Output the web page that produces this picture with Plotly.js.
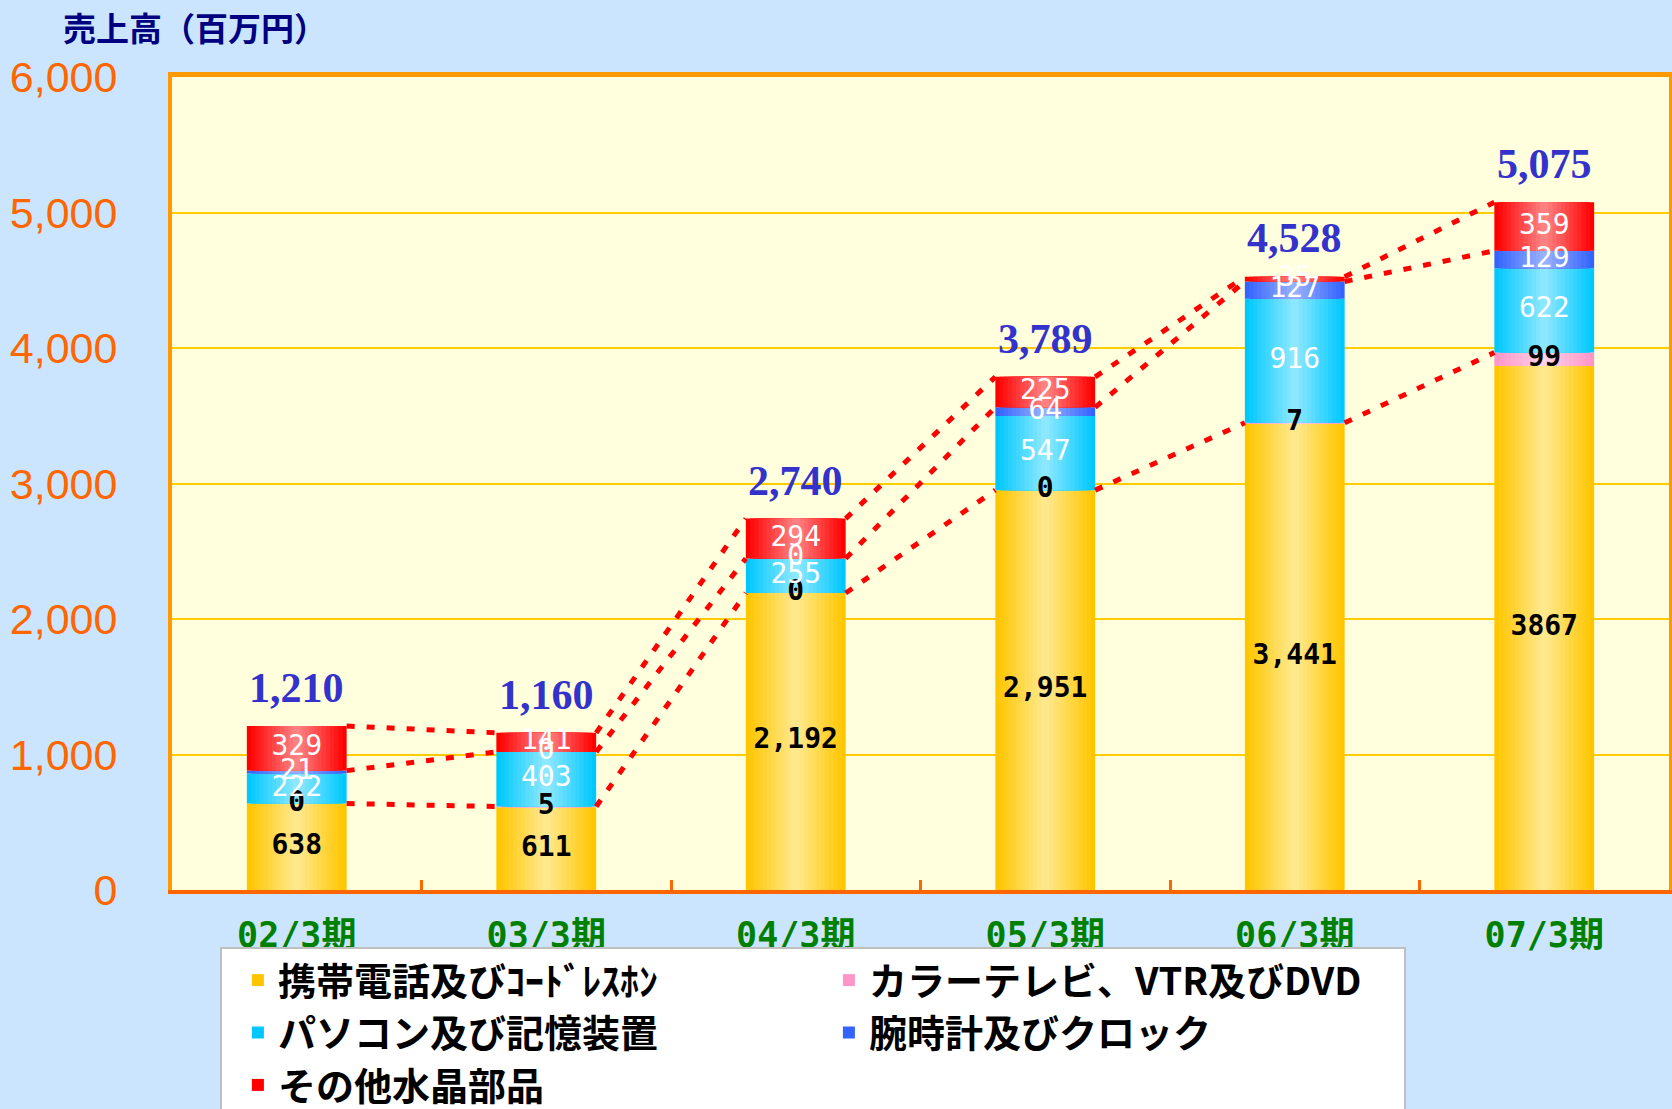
<!DOCTYPE html>
<html><head><meta charset="utf-8">
<script src="https://cdn.plot.ly/plotly-3.0.1.min.js"></script>
<style>html,body{margin:0;padding:0;background:#CCE5FF;} #chart{width:1672px;height:1109px;}</style>
</head><body><div id="chart"></div>
<script>
// ---- data ----
const categories = ["02/3期","03/3期","04/3期","05/3期","06/3期","07/3期"];
const seriesNames = ["携帯電話及びｺｰﾄﾞﾚｽﾎﾝ","カラーテレビ、VTR及びDVD","パソコン及び記憶装置","腕時計及びクロック","その他水晶部品"];
const phone = [638, 611, 2192, 2951, 3441, 3867];
const tv    = [0, 5, 0, 0, 7, 99];
const pc    = [222, 403, 255, 547, 916, 622];
const watch = [21, 0, 0, 64, 127, 129];
const other = [329, 141, 294, 225, 35, 359];
const totals = [1210, 1160, 2740, 3789, 4528, 5075];
const phoneLabels = ["638","611","2,192","2,951","3,441","3867"];
const yTicks = [0,1000,2000,3000,4000,5000,6000];

// ---- styles ----
const series = [phone, tv, pc, watch, other];
const styles = [
  {edge:[255,198,0],  center:[255,232,140], label:'#000000', weight:'bold'},
  {edge:[255,150,200],center:[255,208,232], label:'#000000', weight:'bold'},
  {edge:[0,200,255],  center:[140,232,255], label:'#FFFFFF', weight:'normal'},
  {edge:[51,100,255], center:[150,175,255], label:'#FFFFFF', weight:'normal'},
  {edge:[255,0,0],    center:[255,128,128], label:'#FFFFFF', weight:'normal'}
];
const BARW = 0.4, LAYERS = 12;
function mix(a,b,t){return 'rgb('+a.map((v,i)=>Math.round(v+(b[i]-v)*t)).join(',')+')';}

// cumulative bases
const bases = [];
let run = categories.map(()=>0);
series.forEach(s=>{ bases.push(run.slice()); run = run.map((v,i)=>v+s[i]); });
const tops = series.map((s,k)=>s.map((v,i)=>bases[k][i]+v));

const traces = [];
series.forEach((s,k)=>{
  const st = styles[k];
  for(let L=0; L<LAYERS; L++){
    const t = L/(LAYERS-1);
    traces.push({
      type:'bar', x:categories, y:s, base:bases[k],
      width: BARW*(1-L/LAYERS),
      marker:{color: mix(st.edge, st.center, t), line:{width:0}},
      name: seriesNames[k], showlegend: L===0, legendgroup:'g'+k,
      hoverinfo:'skip'
    });
  }
});

// connector lines (cumulative levels: tv top, watch top, total)
[1,3,4].forEach(k=>{
  const xs=[], ys=[];
  for(let i=0;i<categories.length-1;i++){
    xs.push(i+BARW/2, i+1-BARW/2, null);
    ys.push(tops[k][i], tops[k][i+1], null);
  }
  traces.push({type:'scatter', mode:'lines', x:xs, y:ys, xaxis:'x2',
    line:{color:'#FF0000', width:5, dash:'8px,12px'}, showlegend:false, hoverinfo:'skip', connectgaps:false});
});

// segment labels
series.forEach((s,k)=>{
  const st = styles[k];
  traces.push({
    type:'scatter', mode:'text', x:categories,
    y: s.map((v,i)=>bases[k][i]+v/2),
    text: k===0 ? phoneLabels : s.map(v=>v.toLocaleString('en-US')),
    textposition:'middle center',
    textfont:{family:'DejaVu Sans Mono, Noto Sans CJK JP, monospace', size:28, color:st.label, weight:st.weight},
    showlegend:false, hoverinfo:'skip', cliponaxis:false
  });
});

const annotations = categories.map((c,i)=>({
  x:c, y:totals[i], xref:'x', yref:'y', text: totals[i].toLocaleString('en-US'),
  showarrow:false, yanchor:'bottom', yshift:13,
  font:{family:'Liberation Serif, Times New Roman, serif', size:42, color:'#3333CC', weight:'bold'}
}));
annotations.push({
  xref:'paper', yref:'paper', x:-0.074, y:1.062, xanchor:'left', yanchor:'middle',
  text:'売上高（百万円）', showarrow:false,
  font:{family:'Noto Sans CJK JP, sans-serif', size:33, color:'#000080', weight:'bold'}
});

const layout = {
  width:1672, height:1109,
  margin:{l:172, r:3, t:77, b:219, pad:0, autoexpand:false},
  paper_bgcolor:'#CCE5FF', plot_bgcolor:'#FFFFDD',
  barmode:'overlay',
  showlegend:true,
  xaxis:{type:'category', range:[-0.5,5.5], tickson:'boundaries', ticks:'inside', ticklen:10, tickwidth:3,
    tickcolor:'#FF6600', showline:true, linecolor:'#FF6600', linewidth:4, showgrid:false, zeroline:false,
    ticklabelstandoff:11, fixedrange:true, automargin:false,
    tickfont:{family:'DejaVu Sans Mono, Noto Sans CJK JP, monospace', size:35, color:'#008000', weight:'bold'}},
  xaxis2:{overlaying:'x', side:'top', range:[-0.5,5.5], showline:true, linecolor:'#FF9900', linewidth:5,
    showticklabels:false, ticks:'', showgrid:false, zeroline:false, fixedrange:true},
  yaxis:{range:[0,6000], tickvals:yTicks, ticktext:yTicks.map(v=>v.toLocaleString('en-US')),
    ticks:'', showline:true, mirror:true, linecolor:'#FF9900', linewidth:4, automargin:false,
    showgrid:true, gridcolor:'#FFCC00', gridwidth:2, zeroline:false, ticklabelstandoff:42, fixedrange:true,
    tickfont:{family:'Liberation Sans, Arial, sans-serif', size:43, color:'#FF6600'}},
  legend:{orientation:'h', x:0.032, xanchor:'left', y:-0.070, yanchor:'top', traceorder:'normal',
    bgcolor:'#FFFFFF', bordercolor:'#BFBFBF', borderwidth:2, indentation:16,
    entrywidth:530, entrywidthmode:'pixels',
    font:{family:'Noto Sans CJK JP, sans-serif', size:38, color:'#000000', weight:'bold'}},
  annotations: annotations
};
Plotly.newPlot('chart', traces, layout, {displayModeBar:false, staticPlot:true});
</script>
</body></html>
